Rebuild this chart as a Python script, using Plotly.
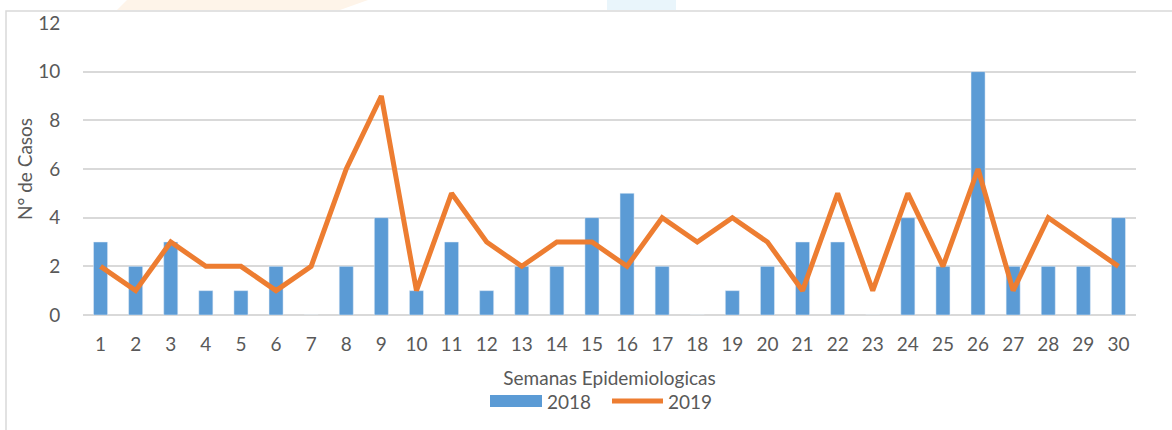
import plotly.graph_objects as go

weeks = list(range(1, 31))
cases_2018 = [3, 2, 3, 1, 1, 2, 0, 2, 4, 1, 3, 1, 2, 2, 4, 5, 2, 0, 1, 2, 3, 3, 0, 4, 2, 10, 2, 2, 2, 4]
cases_2019 = [2, 1, 3, 2, 2, 1, 2, 6, 9, 1, 5, 3, 2, 3, 3, 2, 4, 3, 4, 3, 1, 5, 1, 5, 2, 6, 1, 4, 3, 2]
y_ticks = [0, 2, 4, 6, 8, 10, 12]

BLUE = "#5B9BD5"
ORANGE = "#ED7D31"
TXT = "#595959"
FONT = "Lato"
FS = 19

W, H = 1172, 430
L, T = 83, 23
R = W - 1136
B = H - 315
pw, ph = W - L - R, H - T - B

def px(x):
    return (x - L) / pw

def py(y):
    return (H - B - y) / ph

fig = go.Figure()
fig.add_trace(go.Bar(x=weeks, y=cases_2018, name="2018", marker_color=BLUE,
                     width=0.4, showlegend=False))
fig.add_trace(go.Scatter(x=weeks, y=cases_2019, name="2019", mode="lines",
                         line=dict(color=ORANGE, width=5), showlegend=False))

shapes = [
    dict(type="path", xref="paper", yref="paper",
         path=f"M {px(127)} {py(0)} L {px(368)} {py(0)} L {px(340)} {py(10)} L {px(117)} {py(10)} Z",
         fillcolor="#FEF4E9", line=dict(width=0), layer="below"),
    dict(type="rect", xref="paper", yref="paper", x0=px(607), x1=px(676), y0=py(10), y1=py(0),
         fillcolor="#E9F5FB", line=dict(width=0), layer="below"),
    dict(type="rect", xref="paper", yref="paper", x0=px(6), x1=px(1190), y0=py(450), y1=py(11),
         line=dict(color="#D9D9D9", width=1.5), fillcolor="rgba(0,0,0,0)"),
    dict(type="rect", xref="paper", yref="paper", x0=px(490), x1=px(542), y0=py(407), y1=py(395),
         fillcolor=BLUE, line=dict(width=0)),
    dict(type="line", xref="paper", yref="paper", x0=px(612), x1=px(663), y0=py(401), y1=py(401),
         line=dict(color=ORANGE, width=5)),
]

annotations = [
    dict(text="2018", xref="paper", yref="paper", x=px(545), y=py(401), xanchor="left",
         yanchor="middle", showarrow=False, font=dict(family=FONT, size=FS, color=TXT)),
    dict(text="2019", xref="paper", yref="paper", x=px(666), y=py(401), xanchor="left",
         yanchor="middle", showarrow=False, font=dict(family=FONT, size=FS, color=TXT)),
]

fig.update_layout(
    width=W, height=H,
    margin=dict(l=L, r=R, t=T, b=B, pad=0, autoexpand=False),
    paper_bgcolor="white", plot_bgcolor="white",
    font=dict(family=FONT, size=FS, color=TXT),
    shapes=shapes,
    annotations=annotations,
    xaxis=dict(range=[0.5, 30.5], tickmode="array", tickvals=weeks,
               ticktext=[str(w) for w in weeks], showgrid=False, zeroline=False,
               ticks="outside", ticklen=12, tickcolor="rgba(0,0,0,0)",
               showline=False, automargin=False,
               title=dict(text="Semanas Epidemiologicas", standoff=17,
                          font=dict(family=FONT, size=FS, color=TXT))),
    yaxis=dict(range=[0, 12], tickmode="array", tickvals=y_ticks,
               showgrid=True, gridcolor="#D9D9D9", gridwidth=1.5,
               zeroline=True, zerolinecolor="#D9D9D9", zerolinewidth=1.5,
               ticks="outside", ticklen=18, tickcolor="rgba(0,0,0,0)",
               automargin=False,
               title=dict(text="N° de Casos", standoff=0,
                          font=dict(family=FONT, size=FS, color=TXT))),
)

fig.write_html("out.html", config={"displayModeBar": False},
               post_script="document.body.style.margin='0';")
